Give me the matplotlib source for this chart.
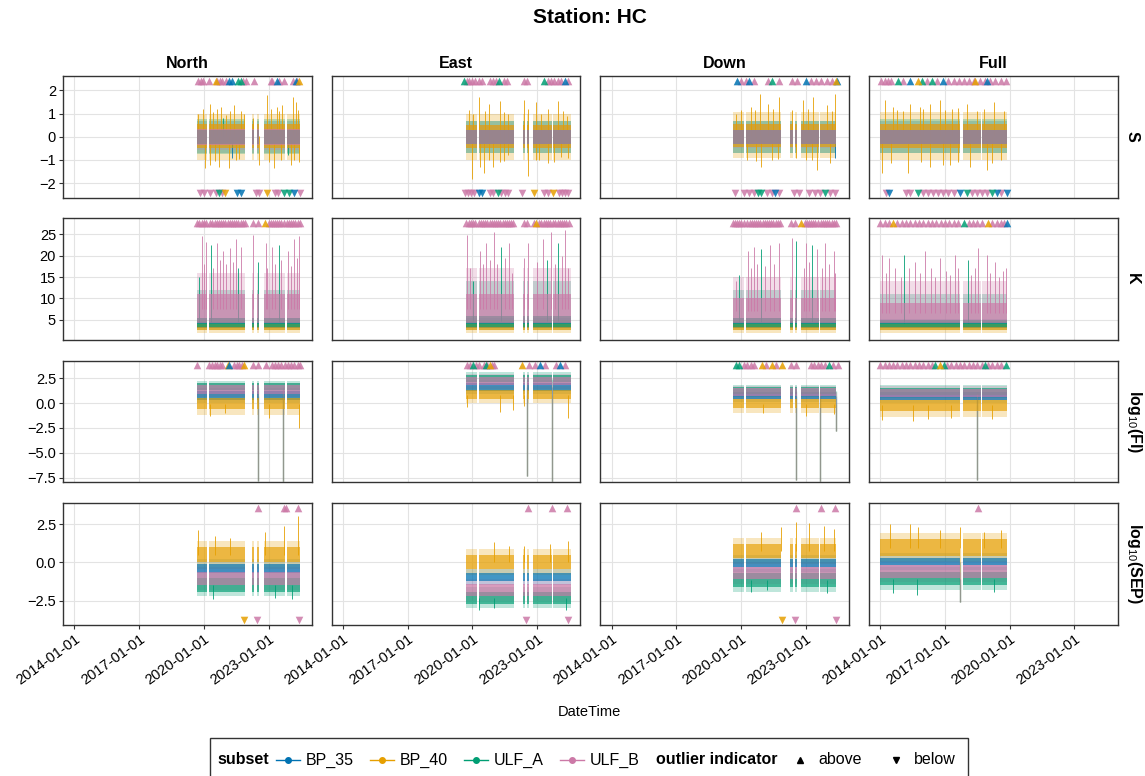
"""
Station HC: outlier overview per component (North / East / Down / Full)
"""

from datetime import datetime, timedelta
import matplotlib.pyplot as plt
from matplotlib.lines import Line2D
from matplotlib.patches import Rectangle

plt.rcParams['font.family'] = ['Liberation Sans', 'DejaVu Sans']
plt.rcParams['mathtext.fontset'] = 'custom'
plt.rcParams['mathtext.rm'] = 'Liberation Sans'

SERIES = ['BP_35', 'BP_40', 'ULF_A', 'ULF_B']
COLORS = ['#0072B2', '#E69F00', '#009E73', '#CC79A7']
COLUMNS = ['North', 'East', 'Down', 'Full']
ROWS = ['S', 'K', r'log$_{10}$(FI)', r'log$_{10}$(SEP)']
XTICKS = [2014, 2017, 2020, 2023]

# time spans (decimal years) with data, per component
SEGMENTS = {
    'North': [(2019.67, 2020.13), (2020.26, 2021.91), (2022.25, 2022.34), (2022.48, 2022.57), (2022.8, 2023.78), (2023.84, 2024.46)],
    'East': [(2019.69, 2020.2), (2020.3, 2021.93), (2022.33, 2022.44), (2022.53, 2022.62), (2022.82, 2023.68), (2023.74, 2024.55)],
    'Down': [(2019.64, 2020.15), (2020.25, 2021.86), (2022.28, 2022.4), (2022.5, 2022.58), (2022.78, 2023.6), (2023.66, 2024.42)],
    'Full': [(2014.0, 2017.72), (2017.84, 2018.66), (2018.73, 2019.9)],
}

# spread per series (BP_35, BP_40, ULF_A, ULF_B): (outer low, core low, core high, outer high)
BANDS_S = {
    'North': [(-0.7, -0.3, 0.3, 0.7), (-1.0, -0.5, 0.55, 1.0), (-0.75, -0.3, 0.3, 0.75), (-0.55, -0.35, 0.35, 0.55)],
    'East': [(-0.7, -0.3, 0.3, 0.7), (-1.0, -0.5, 0.5, 1.0), (-0.7, -0.3, 0.3, 0.7), (-0.5, -0.3, 0.3, 0.5)],
    'Down': [(-0.7, -0.3, 0.3, 0.7), (-0.9, -0.45, 0.55, 1.05), (-0.7, -0.3, 0.3, 0.7), (-0.5, -0.3, 0.3, 0.55)],
    'Full': [(-0.7, -0.3, 0.3, 0.7), (-1.0, -0.5, 0.55, 1.05), (-0.7, -0.3, 0.3, 0.75), (-0.5, -0.3, 0.3, 0.55)],
}
BANDS_K = {
    'North': [(2.6, 3.0, 4.5, 5.5), (2.0, 2.6, 4.0, 5.0), (3.0, 3.4, 5.5, 12.0), (3.4, 4.2, 11.0, 16.0)],
    'East': [(2.6, 3.0, 4.5, 5.5), (2.0, 2.6, 4.0, 5.0), (3.0, 3.4, 6.0, 14.0), (3.4, 4.2, 11.0, 17.0)],
    'Down': [(2.6, 3.0, 4.5, 5.5), (2.0, 2.6, 4.0, 5.0), (3.0, 3.4, 5.5, 12.0), (3.4, 4.2, 10.0, 15.0)],
    'Full': [(2.6, 3.0, 4.5, 5.2), (2.0, 2.6, 4.0, 4.8), (3.0, 3.4, 5.0, 11.0), (3.4, 4.2, 9.0, 14.0)],
}
BANDS_FI = {
    'North': [(0.0, 0.3, 1.2, 1.5), (-1.2, -0.6, 0.5, 0.9), (0.9, 1.3, 2.0, 2.2), (0.6, 0.9, 1.8, 2.0)],
    'East': [(0.9, 1.2, 2.0, 2.3), (0.0, 0.4, 1.3, 1.7), (1.8, 2.1, 2.8, 3.1), (1.4, 1.8, 2.6, 2.9)],
    'Down': [(0.1, 0.4, 1.1, 1.4), (-1.0, -0.5, 0.4, 0.7), (0.6, 0.9, 1.6, 1.8), (0.4, 0.7, 1.5, 1.7)],
    'Full': [(0.0, 0.3, 1.1, 1.4), (-1.4, -0.8, 0.3, 0.6), (0.5, 0.8, 1.5, 1.8), (0.3, 0.6, 1.4, 1.7)],
}
BANDS_SEP = {
    'North': [(-1.0, -0.7, -0.1, 0.2), (-0.4, 0.0, 1.0, 1.4), (-2.2, -1.9, -1.0, -0.7), (-1.8, -1.5, -0.6, -0.3)],
    'East': [(-1.5, -1.2, -0.7, -0.4), (-0.8, -0.4, 0.5, 0.9), (-3.0, -2.7, -1.9, -1.6), (-2.5, -2.2, -1.4, -1.1)],
    'Down': [(-0.6, -0.3, 0.2, 0.5), (-0.1, 0.3, 1.2, 1.6), (-1.9, -1.6, -0.7, -0.4), (-1.4, -1.1, -0.3, 0.0)],
    'Full': [(-0.5, -0.2, 0.3, 0.6), (0.0, 0.4, 1.5, 1.9), (-1.8, -1.5, -0.6, -0.3), (-1.3, -1.0, -0.2, 0.1)],
}

# single excursions (year, value, series index)
SPIKES_S = {
    'North': [(2019.75, 1.0, 1), (2019.95, 1.2, 1), (2020.28, 1.43, 1), (2020.6, 1.2, 1), (2020.78, 1.3, 1), (2021.2, 1.1, 1),
              (2021.4, 1.35, 1), (2021.71, 1.1, 1), (2022.3, 0.8, 1), (2022.95, 1.8, 1), (2023.1, 1.2, 1), (2023.4, 1.3, 1),
              (2023.64, 1.35, 1), (2024.15, 1.7, 1), (2024.26, 1.5, 1), (2020.04, -1.36, 1), (2020.3, -1.2, 1),
              (2020.7, -1.3, 1), (2021.17, -1.36, 1), (2021.5, -1.0, 1), (2022.56, -1.2, 1), (2023.26, -1.36, 1),
              (2023.6, -1.0, 1), (2024.03, -1.2, 1), (2024.4, -1.1, 1), (2021.3, -0.9, 0), (2023.9, -0.8, 2),
              (2020.45, 1.05, 1), (2021.05, 0.95, 1), (2021.85, 1.0, 1), (2023.5, 1.1, 1), (2024.35, 1.15, 1),
              (2020.5, -1.05, 1), (2021.65, -0.95, 1), (2023.0, -1.1, 1), (2024.2, -1.0, 1), (2020.9, 0.8, 2)],
    'East': [(2019.82, 1.14, 1), (2020.3, 1.7, 1), (2020.78, 1.4, 1), (2021.26, 1.55, 1), (2021.66, 1.0, 1), (2022.37, 1.6, 1),
             (2022.58, 1.2, 1), (2022.93, 1.5, 1), (2023.49, 1.2, 1), (2023.97, 1.55, 1), (2024.37, 0.9, 1),
             (2019.98, -1.8, 1), (2020.35, -1.3, 1), (2020.54, -1.57, 1), (2020.94, -1.3, 1), (2021.26, -1.1, 1),
             (2021.66, -0.8, 1), (2022.58, -1.7, 1), (2022.93, -1.0, 1), (2023.49, -1.15, 1), (2024.13, -0.86, 1),
             (2020.05, 1.0, 1), (2020.6, 1.1, 1), (2021.45, 1.05, 1), (2023.2, 1.0, 1), (2024.2, 1.1, 1),
             (2020.75, -1.0, 1), (2021.45, -1.05, 1), (2023.1, -1.0, 1), (2023.8, -1.1, 1), (2024.45, -0.9, 1)],
    'Down': [(2019.98, 1.14, 1), (2020.46, 1.3, 1), (2020.86, 1.86, 1), (2021.26, 1.4, 1), (2021.74, 1.7, 1), (2022.37, 1.14, 1),
             (2022.85, 1.57, 1), (2023.33, 1.7, 1), (2023.97, 1.36, 1), (2024.37, 1.86, 1),
             (2020.3, -1.0, 1), (2020.94, -1.3, 1), (2021.42, -1.0, 1), (2022.53, -0.9, 1), (2023.01, -1.0, 1),
             (2023.5, -1.43, 1), (2024.13, -1.15, 1), (2019.75, 1.0, 1), (2020.65, 1.15, 1), (2021.5, 1.2, 1),
             (2023.1, 1.2, 1), (2024.2, 1.1, 1), (2020.7, -1.05, 1), (2021.7, -0.95, 1), (2023.3, -1.0, 1),
             (2024.35, -0.9, 0)],
    'Full': [(2014.2, 1.6, 1), (2014.59, 1.3, 1), (2015.06, 1.1, 1), (2015.37, 1.4, 1), (2015.84, 1.3, 1), (2016.3, 1.4, 1),
             (2016.77, 1.6, 1), (2017.32, 1.2, 1), (2018.02, 1.4, 1), (2018.49, 1.1, 1), (2019.27, 1.5, 1), (2019.73, 1.1, 1),
             (2014.09, -1.57, 1), (2015.29, -1.57, 1), (2016.3, -1.3, 1), (2017.24, -1.2, 1), (2018.17, -1.3, 1),
             (2018.95, -1.43, 1), (2019.58, -1.0, 1), (2014.8, 1.15, 1), (2016.0, 1.2, 1), (2017.0, 1.15, 1),
             (2017.6, 1.25, 1), (2018.8, 1.2, 1), (2014.5, -1.15, 1), (2015.9, -1.1, 1), (2016.9, -1.2, 1),
             (2017.6, -1.1, 1), (2019.2, -1.15, 1)],
}
SPIKES_K = {
    'North': [(2019.79, 15.0, 2), (2019.91, 24.5, 3), (2020.08, 23.3, 3), (2020.35, 22.5, 2), (2020.61, 23.0, 3),
              (2020.87, 21.0, 3), (2021.22, 21.7, 3), (2021.48, 24.0, 3), (2021.74, 22.0, 3), (2022.3, 24.8, 3),
              (2022.53, 18.6, 2), (2022.88, 23.0, 3), (2023.14, 22.0, 3), (2023.49, 22.5, 2), (2023.9, 21.0, 3),
              (2024.19, 24.0, 3), (2024.42, 24.5, 3), (2020.0, 18.0, 3), (2020.45, 17.0, 3), (2020.75, 19.0, 3),
              (2021.05, 18.0, 3), (2021.35, 18.5, 3), (2021.6, 17.0, 2), (2022.95, 17.0, 3), (2023.3, 18.0, 3),
              (2023.6, 19.0, 3), (2024.05, 17.5, 3), (2024.3, 19.5, 3)],
    'East': [(2019.77, 24.8, 3), (2020.03, 14.0, 2), (2020.35, 21.0, 3), (2020.64, 23.0, 3), (2020.99, 25.6, 3),
             (2021.34, 22.0, 2), (2021.69, 23.0, 3), (2022.38, 19.4, 3), (2022.58, 23.0, 3), (2023.27, 24.0, 3),
             (2023.62, 25.5, 3), (2023.97, 23.0, 2), (2024.31, 26.0, 3), (2019.9, 17.0, 3), (2020.5, 18.0, 3),
             (2020.8, 19.0, 3), (2021.15, 18.0, 3), (2021.5, 19.5, 3), (2021.85, 16.0, 3), (2023.0, 18.5, 3),
             (2023.45, 19.0, 2), (2023.85, 18.0, 3), (2024.15, 20.0, 3), (2024.45, 17.0, 3)],
    'Down': [(2019.92, 15.5, 2), (2020.34, 21.0, 3), (2020.59, 22.0, 3), (2020.92, 21.5, 2), (2021.34, 22.5, 3),
             (2021.76, 23.0, 3), (2022.35, 24.2, 3), (2022.54, 23.5, 2), (2023.03, 23.0, 3), (2023.28, 22.5, 2),
             (2023.5, 21.5, 3), (2023.87, 23.0, 3), (2024.29, 21.0, 3), (2019.75, 14.0, 3), (2020.45, 17.0, 3),
             (2020.75, 18.0, 3), (2021.1, 17.5, 3), (2021.55, 18.0, 3), (2022.9, 17.0, 3), (2023.15, 18.5, 3),
             (2023.75, 17.0, 3), (2024.1, 18.0, 3), (2024.38, 16.0, 3)],
    'Full': [(2014.08, 20.2, 3), (2014.42, 19.5, 3), (2015.1, 20.2, 2), (2015.6, 18.6, 3), (2016.1, 21.0, 3),
             (2016.78, 19.5, 3), (2017.46, 20.2, 3), (2018.05, 19.0, 2), (2018.55, 21.8, 3), (2018.97, 20.2, 3),
             (2019.31, 18.6, 3), (2019.82, 17.0, 3), (2014.25, 16.0, 3), (2014.7, 17.0, 3), (2014.95, 15.0, 3),
             (2015.35, 17.0, 3), (2015.85, 16.0, 3), (2016.35, 17.0, 3), (2016.55, 15.0, 3), (2017.05, 16.5, 3),
             (2017.25, 15.5, 3), (2017.62, 17.0, 3), (2018.2, 15.5, 3), (2018.4, 17.0, 3), (2019.1, 16.0, 3),
             (2019.5, 15.0, 3), (2019.7, 16.5, 3)],
}
SPIKES_FI = {
    'North': [(2020.3, -1.3, 1), (2021.0, -1.0, 1), (2023.0, -1.5, 1), (2024.4, -2.5, 1)],
    'East': [(2019.75, -0.4, 1), (2021.3, -0.9, 1), (2021.9, -0.7, 1), (2022.4, -0.3, 1), (2024.45, -1.5, 1)],
    'Down': [(2021.0, -1.0, 1), (2023.0, -1.3, 1), (2024.3, -1.1, 1)],
    'Full': [(2014.1, -1.7, 1), (2015.5, -1.8, 1), (2016.2, -1.6, 1), (2017.3, -1.5, 1), (2019.2, -1.6, 1)],
}
SPIKES_SEP = {
    'North': [(2019.71, 2.1, 1), (2020.52, 1.7, 1), (2021.23, 1.6, 1), (2022.84, 2.0, 1), (2023.73, 2.4, 1), (2024.36, 3.0, 1),
              (2020.43, -2.4, 2), (2023.3, -2.3, 2), (2024.1, -2.4, 2)],
    'East': [(2021.0, 1.3, 1), (2021.7, 1.1, 1), (2022.4, 1.1, 1), (2023.6, 1.2, 1), (2024.45, 1.4, 1),
             (2020.3, -3.1, 2), (2021.0, -3.0, 2), (2024.35, -3.1, 2)],
    'Down': [(2020.91, 2.0, 1), (2021.84, 2.3, 1), (2022.54, 2.65, 1), (2023.16, 2.6, 1), (2023.86, 2.4, 1), (2024.33, 2.2, 1),
             (2020.44, -1.9, 2), (2021.2, -1.8, 2), (2024.0, -2.0, 2)],
    'Full': [(2014.44, 2.5, 1), (2015.37, 2.5, 1), (2015.76, 2.3, 1), (2016.77, 2.1, 1), (2017.7, 2.3, 1), (2018.8, 2.0, 1),
             (2019.58, 2.1, 1), (2014.6, -2.0, 2), (2015.7, -2.1, 2), (2019.27, -1.9, 2)],
}

# deep dips seen in every series
DIPS_FI = {'North': [(2022.52, -7.8), (2023.67, -7.9)], 'East': [(2022.53, -7.3), (2023.7, -7.9)],
           'Down': [(2022.54, -7.7), (2023.67, -7.9), (2024.4, -2.8)], 'Full': [(2018.5, -7.7)]}
DIPS_SEP = {'North': [], 'East': [], 'Down': [], 'Full': [(2017.68, -2.6)]}

# outlier indicators (series index -> years)
ABOVE_S = {
    'North': {3: [2019.74, 2019.86, 2019.98, 2020.24, 2020.62, 2020.75, 2020.86, 2021.05, 2021.8, 2021.94, 2022.33,
                  2023.1, 2023.18, 2023.5, 2023.72, 2024.15, 2024.3], 0: [2021.17, 2021.32, 2023.38, 2024.26],
              1: [2020.55, 2024.42], 2: [2021.58, 2021.71]},
    'East': {3: [2019.74, 2019.86, 2019.98, 2020.1, 2020.3, 2020.46, 2020.8, 2020.95, 2021.1, 2021.45, 2021.58,
                 2022.4, 2022.55, 2023.5, 2023.65, 2023.8, 2023.95, 2024.1, 2024.45], 2: [2019.63, 2021.25, 2023.33],
             0: [2024.3]},
    'Down': {3: [2019.98, 2020.22, 2020.62, 2021.26, 2021.74, 2022.37, 2022.6, 2023.25, 2023.49, 2023.73, 2023.97, 2024.2],
             0: [2019.82, 2020.38, 2023.0, 2024.45], 2: [2021.42], 1: [2024.41]},
    'Full': {3: [2014.05, 2014.2, 2014.36, 2014.51, 2015.06, 2016.15, 2016.62, 2017.16, 2017.4, 2017.63, 2017.86,
                 2018.1, 2018.33, 2018.64, 2018.88, 2019.11, 2019.34, 2019.58, 2019.81],
             2: [2014.83, 2015.92, 2016.38], 0: [2015.37, 2016.9, 2018.95], 1: [2015.76, 2018.41]},
}
BELOW_S = {
    'North': {3: [2019.82, 2019.99, 2020.3, 2020.55, 2020.85, 2022.4, 2022.55, 2023.3, 2023.45, 2024.46],
              2: [2020.7, 2023.7, 2023.95], 1: [2021.0, 2022.95], 0: [2021.55, 2021.7, 2024.2]},
    'East': {3: [2019.66, 2019.8, 2019.93, 2020.06, 2020.8, 2020.95, 2021.34, 2021.5, 2021.66, 2022.3, 2023.3, 2023.5,
                 2024.0, 2024.15, 2024.3, 2024.45], 0: [2020.3, 2020.45], 2: [2021.18], 1: [2022.85, 2023.73]},
    'Down': {3: [2019.74, 2020.14, 2020.38, 2020.6, 2021.18, 2021.42, 2021.74, 2022.45, 2022.69, 2023.17, 2023.41,
                 2023.65, 2024.13, 2024.37], 2: [2020.78, 2020.94, 2023.89], 0: [2021.58]},
    'Full': {3: [2014.25, 2015.2, 2015.4, 2016.0, 2016.2, 2016.46, 2016.7, 2016.93, 2017.16, 2017.4, 2018.25, 2018.5,
                 2018.72, 2018.95, 2019.58], 0: [2014.4, 2017.7, 2019.42, 2019.89], 2: [2015.76, 2018.0, 2019.19]},
}
ABOVE_K = {
    'North': {3: [2019.7, 2019.8, 2019.9, 2020.0, 2020.1, 2020.3, 2020.4, 2020.5, 2020.6, 2020.7, 2020.8, 2020.9, 2021.0,
                  2021.1, 2021.2, 2021.3, 2021.4, 2021.5, 2021.6, 2021.7, 2021.8, 2021.9, 2022.28, 2022.52, 2023.0,
                  2023.1, 2023.2, 2023.3, 2023.4, 2023.5, 2023.6, 2023.7, 2023.85, 2023.95, 2024.05, 2024.15, 2024.25,
                  2024.35, 2024.45], 1: [2022.85]},
    'East': {3: [2019.72, 2019.82, 2019.92, 2020.02, 2020.12, 2020.3, 2020.4, 2020.5, 2020.6, 2020.7, 2020.8, 2020.9,
                 2021.0, 2021.1, 2021.2, 2021.3, 2021.4, 2021.5, 2021.6, 2021.7, 2021.8, 2021.9, 2022.38, 2022.55,
                 2022.85, 2023.1, 2023.2, 2023.3, 2023.4, 2023.5, 2023.6, 2023.75, 2023.85, 2023.95, 2024.05, 2024.15,
                 2024.25, 2024.35, 2024.5], 1: [2022.97]},
    'Down': {3: [2019.62, 2019.72, 2019.82, 2019.92, 2020.02, 2020.12, 2020.3, 2020.4, 2020.5, 2020.6, 2020.7, 2020.8,
                 2020.9, 2021.0, 2021.1, 2021.2, 2021.3, 2021.4, 2021.5, 2021.6, 2021.7, 2021.8, 2022.33, 2022.52,
                 2022.95, 2023.05, 2023.15, 2023.25, 2023.35, 2023.45, 2023.55, 2023.7, 2023.8, 2023.9, 2024.0,
                 2024.1, 2024.2, 2024.3, 2024.42], 1: [2022.77]},
    'Full': {3: [2014.0, 2014.2, 2014.4, 2014.8, 2015.0, 2015.2, 2015.4, 2015.6, 2015.8, 2016.0, 2016.2, 2016.4, 2016.6,
                 2016.8, 2017.0, 2017.2, 2017.4, 2017.6, 2018.1, 2018.3, 2018.5, 2018.7, 2019.2, 2019.4, 2019.6,
                 2019.75], 1: [2014.6, 2018.98], 2: [2017.88], 0: [2019.9]},
}
ABOVE_FI = {
    'North': {3: [2019.68, 2020.26, 2020.38, 2020.5, 2020.62, 2020.74, 2020.86, 2021.4, 2021.52, 2021.64, 2021.75,
                  2022.3, 2022.5, 2022.88, 2023.15, 2023.3, 2023.45, 2023.6, 2023.75, 2023.9, 2024.05, 2024.2, 2024.35,
                  2024.48], 1: [2021.1, 2021.85], 0: [2021.18]},
    'East': {3: [2019.77, 2019.9, 2020.15, 2020.3, 2020.55, 2020.7, 2020.9, 2021.0, 2022.6, 2022.92, 2023.35, 2023.88,
                 2024.3], 2: [2020.03, 2020.62], 1: [2020.8, 2022.3], 0: [2023.13, 2024.05]},
    'Down': {3: [2020.13, 2020.28, 2020.44, 2020.6, 2021.14, 2021.6, 2022.31, 2022.54, 2023.24, 2023.4, 2023.56,
                 2023.72, 2023.88, 2024.25, 2024.48], 2: [2019.75, 2019.9, 2024.1], 1: [2020.99, 2021.45, 2021.92]},
    'Full': {3: [2014.0, 2014.2, 2014.4, 2014.6, 2014.8, 2015.0, 2015.2, 2015.4, 2015.6, 2015.8, 2016.0, 2016.2,
                 2016.4, 2017.1, 2017.3, 2017.5, 2017.7, 2017.9, 2018.1, 2018.3, 2018.5, 2018.7, 2019.0, 2019.2,
                 2019.4, 2019.6], 2: [2016.54, 2016.96, 2018.88, 2019.81], 1: [2016.77]},
}
ABOVE_SEP = {'North': {3: [2022.52, 2023.73, 2023.82, 2024.36]}, 'East': {3: [2022.56, 2023.7, 2024.4]},
             'Down': {3: [2022.54, 2023.7, 2024.35]}, 'Full': {3: [2018.52]}}
BELOW_SEP = {'North': {1: [2021.88], 3: [2022.48, 2024.4]}, 'East': {3: [2022.48, 2024.42]},
             'Down': {1: [2021.9], 3: [2022.5, 2024.4]}, 'Full': {}}
NONE = {'North': {}, 'East': {}, 'Down': {}, 'Full': {}}

BANDS = [BANDS_S, BANDS_K, BANDS_FI, BANDS_SEP]
SPIKES = [SPIKES_S, SPIKES_K, SPIKES_FI, SPIKES_SEP]
DIPS = [None, None, DIPS_FI, DIPS_SEP]
ABOVE = [ABOVE_S, ABOVE_K, ABOVE_FI, ABOVE_SEP]
BELOW = [BELOW_S, NONE, NONE, BELOW_SEP]
MARK_Y = [(2.42, -2.42), (27.6, None), (3.76, None), (3.52, -3.73)]
YLIMS = [(-2.62, 2.62), (0.3, 28.7), (-7.95, 4.23), (-4.06, 3.86)]
YTICKS = [[-2, -1, 0, 1, 2], [5, 10, 15, 20, 25], [-7.5, -5.0, -2.5, 0.0, 2.5], [-2.5, 0.0, 2.5]]

W, H = 1145, 776


def to_date(y):
    """Decimal year -> datetime"""
    year = int(y)
    return datetime(year, 1, 1) + timedelta(days=(y - year) * 365.25)


def draw_panel(ax, r, col):
    bands = BANDS[r][col]
    segs = [(to_date(a), to_date(b)) for a, b in SEGMENTS[col]]
    # outer spread first, then the dense core of each series
    for s in range(4):
        lo2, lo, hi, hi2 = bands[s]
        for a, b in segs:
            ax.fill_between([a, b], lo2, hi2, color=COLORS[s], alpha=0.25, lw=0, zorder=2)
    for t, v, s in SPIKES[r][col]:
        lo2, lo, hi, hi2 = bands[s]
        ax.vlines(to_date(t), (lo + hi) / 2, v, color=COLORS[s], lw=0.7, alpha=0.85, zorder=2.5)
    for s in range(4):
        lo2, lo, hi, hi2 = bands[s]
        for a, b in segs:
            ax.fill_between([a, b], lo, hi, color=COLORS[s], alpha=0.65, lw=0, zorder=3 + s)
    if DIPS[r] is not None:
        for t, v in DIPS[r][col]:
            for s in range(4):
                lo2, lo, hi, hi2 = bands[s]
                ax.vlines(to_date(t), (lo + hi) / 2, v, color=COLORS[s], lw=0.9, alpha=0.4, zorder=3)
    y_up, y_dn = MARK_Y[r]
    for s, years in ABOVE[r][col].items():
        ax.scatter([to_date(t) for t in years], [y_up] * len(years), marker='^', s=30,
                   color=COLORS[s], alpha=0.85, lw=0, zorder=10)
    for s, years in BELOW[r][col].items():
        ax.scatter([to_date(t) for t in years], [y_dn] * len(years), marker='v', s=30,
                   color=COLORS[s], alpha=0.85, lw=0, zorder=10)


fig = plt.figure(figsize=(W / 100, H / 100), dpi=100)
axes = fig.subplots(4, 4, sharex=True)
fig.subplots_adjust(left=0.055, right=0.976, top=0.902, bottom=0.195, wspace=0.08, hspace=0.172)

for r in range(4):
    for c, col in enumerate(COLUMNS):
        ax = axes[r, c]
        draw_panel(ax, r, col)
        ax.set_xlim(to_date(2013.47), to_date(2025.0))
        ax.set_ylim(*YLIMS[r])
        ax.set_yticks(YTICKS[r])
        ax.set_xticks([datetime(y, 1, 1) for y in XTICKS])
        ax.set_xticklabels([f'{y}-01-01' for y in XTICKS], rotation=36, ha='right', rotation_mode='anchor')
        ax.grid(True, color='#e3e3e3', lw=0.8, zorder=0)
        ax.set_axisbelow(True)
        for sp in ax.spines.values():
            sp.set_color('#333333')
            sp.set_linewidth(1.0)
        ax.tick_params(labelsize=10.5, length=3, color='#333333', pad=2)
        if c > 0:
            ax.tick_params(left=False, labelleft=False)
        if r < 3:
            ax.tick_params(bottom=False, labelbottom=False)
        if r == 0:
            ax.set_title(col, fontsize=11.5, fontweight='bold', pad=6)
        if c == 3:
            ax.text(1.03, 0.5, ROWS[r], transform=ax.transAxes, rotation=-90, ha='left', va='center',
                    fontsize=11.5, fontweight='bold')

fig.suptitle('Station: HC', x=0.515, y=0.977, va='center', fontsize=15, fontweight='bold')
fig.text(0.515, 0.0825, 'DateTime', ha='center', va='center', fontsize=10.5)

# legend row, laid out left to right by measuring each text
renderer = fig.canvas.get_renderer()
ly = 1 - 760 / H
fig.add_artist(Rectangle((210 / W, 1 - 779 / H), 758 / W, 41 / H, transform=fig.transFigure,
                         fill=False, edgecolor='#333333', lw=1.0))
cursor = 217.0


def put_text(label, bold=False):
    global cursor
    t = fig.text(cursor / W, ly, label, fontsize=11.5, va='center', fontweight='bold' if bold else 'normal')
    cursor += t.get_window_extent(renderer).width


def put_handle(color, marker, line=True):
    global cursor
    if line:
        fig.add_artist(Line2D([cursor / W, (cursor + 24) / W], [ly, ly], transform=fig.transFigure, color=color, lw=1))
    fig.add_artist(Line2D([(cursor + 12) / W], [ly], transform=fig.transFigure, color=color, marker=marker,
                          markersize=4, linestyle='none'))
    cursor += 30


put_text('subset', bold=True)
for color, name in zip(COLORS, SERIES):
    cursor += 7
    put_handle(color, 'o')
    put_text(name)
    cursor += 9
cursor += 8
put_text('outlier indicator', bold=True)
for marker, name in [('^', 'above'), ('v', 'below')]:
    cursor += 10
    put_handle('black', marker, line=False)
    put_text(name)
    cursor += 12

plt.savefig('out.png', dpi=100)
